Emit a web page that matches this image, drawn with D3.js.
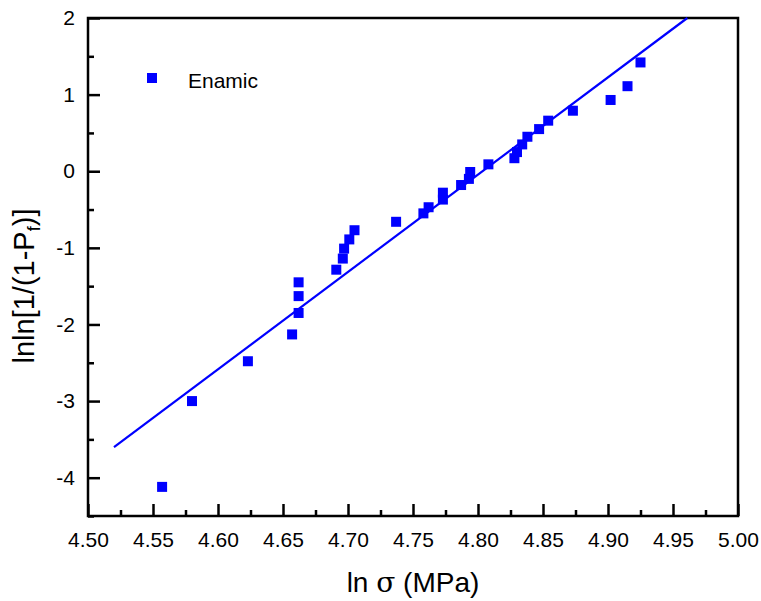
<!DOCTYPE html>
<html>
<head>
<meta charset="utf-8">
<script src="https://cdn.jsdelivr.net/npm/d3@7/dist/d3.min.js"></script>
<style>
  body{ margin:0; background:#fff; }
  text{ font-family:'Liberation Sans', Arial, sans-serif; fill:#000; }
</style>
</head>
<body>
<svg id="chart" width="761" height="601"></svg>
<script>
// ln(strength) and lnln[1/(1-Pf)]
var lnSigma = [4.557, 4.580, 4.623, 4.657, 4.662, 4.662, 4.662, 4.691, 4.696, 4.697,
  4.701, 4.705, 4.737, 4.758, 4.762, 4.773, 4.773, 4.787, 4.793, 4.794,
  4.808, 4.828, 4.830, 4.834, 4.838, 4.847, 4.854, 4.873, 4.902, 4.915, 4.925];
var lnlnPf = [-4.12, -3.00, -2.48, -2.13, -1.85, -1.63, -1.45, -1.285, -1.14, -1.01,
  -0.89, -0.77, -0.66, -0.55, -0.47, -0.37, -0.28, -0.18, -0.10, -0.01,
  0.09, 0.17, 0.25, 0.35, 0.45, 0.55, 0.66, 0.79, 0.93, 1.11, 1.42];

// linear fit end points
var fitX = [4.52, 4.961];
var fitY = [-3.6, 2.0];

var xTicks = ['4.50','4.55','4.60','4.65','4.70','4.75','4.80','4.85','4.90','4.95','5.00'];
var yTicks = ['-4', '-3', '-2', '-1', '0', '1', '2'];
var seriesName = 'Enamic';

var margin = {left:88, right:23, top:18, bottom:85};
var W = 761, H = 601;
var blue = '#0000FF';

var svg = d3.select('#chart');

var scaleX = d3.scaleLinear()
  .domain([4.5, 5.0])
  .range([margin.left, W - margin.right]);
var scaleY = d3.scaleLinear()
  .domain([-4.5, 2])
  .range([H - margin.bottom, margin.top]);

// frame
svg.append('rect')
  .attr('x', scaleX(4.5))
  .attr('y', scaleY(2))
  .attr('width', scaleX(5.0) - scaleX(4.5))
  .attr('height', scaleY(-4.5) - scaleY(2))
  .style('fill','none')
  .style('stroke','#000')
  .style('stroke-width',2.5);

// bottom axis, ticks inside
var xAxis = d3.axisBottom(scaleX)
  .tickValues(xTicks.map(Number))
  .tickFormat(function(d, i){ return xTicks[i]; })
  .tickSizeInner(-12)
  .tickSizeOuter(0)
  .tickPadding(16);
var gx = svg.append('g')
  .attr('transform','translate(0,' + scaleY(-4.5) + ')')
  .call(xAxis);
gx.select('.domain').remove();
gx.selectAll('.tick line').style('stroke','#000').style('stroke-width',2.5);
gx.selectAll('.tick text').style('font-size','21px');

var xMinor = d3.axisBottom(scaleX)
  .tickValues(d3.range(0, 10).map(function(i){ return 4.525 + i*0.05; }))
  .tickFormat('')
  .tickSizeInner(-6)
  .tickSizeOuter(0);
var gxm = svg.append('g')
  .attr('transform','translate(0,' + scaleY(-4.5) + ')')
  .call(xMinor);
gxm.select('.domain').remove();
gxm.selectAll('.tick line').style('stroke','#000').style('stroke-width',2.5);

// left axis
var yAxis = d3.axisLeft(scaleY)
  .tickValues(yTicks.map(Number))
  .tickFormat(function(d, i){ return yTicks[i]; })
  .tickSizeInner(-12)
  .tickSizeOuter(0)
  .tickPadding(13);
var gy = svg.append('g')
  .attr('transform','translate(' + scaleX(4.5) + ',0)')
  .call(yAxis);
gy.select('.domain').remove();
gy.selectAll('.tick line').style('stroke','#000').style('stroke-width',2.5);
gy.selectAll('.tick text').style('font-size','21px');

var yMinor = d3.axisLeft(scaleY)
  .tickValues([-4.5, -3.5, -2.5, -1.5, -0.5, 0.5, 1.5])
  .tickFormat('')
  .tickSizeInner(-6)
  .tickSizeOuter(0);
var gym = svg.append('g')
  .attr('transform','translate(' + scaleX(4.5) + ',0)')
  .call(yMinor);
gym.select('.domain').remove();
gym.selectAll('.tick line').style('stroke','#000').style('stroke-width',2.5);

// fit line
var line = d3.line()
  .x(function(d){ return scaleX(d[0]); })
  .y(function(d){ return scaleY(d[1]); });
svg.append('path')
  .datum(d3.zip(fitX, fitY))
  .attr('d', line)
  .style('fill','none')
  .style('stroke', blue)
  .style('stroke-width',2.2);

// points
var sq = 10;
svg.selectAll('.pt')
  .data(d3.zip(lnSigma, lnlnPf))
  .enter()
  .append('rect')
  .attr('class','pt')
  .attr('x', function(d){ return scaleX(d[0]) - sq/2; })
  .attr('y', function(d){ return scaleY(d[1]) - sq/2; })
  .attr('width', sq)
  .attr('height', sq)
  .style('fill', blue);

// legend
svg.append('rect')
  .attr('x', 147).attr('y', 73)
  .attr('width', sq).attr('height', sq)
  .style('fill', blue);
svg.append('text')
  .attr('x', 188).attr('y', 88)
  .style('font-size','21px')
  .text(seriesName);

// axis titles
var xt = svg.append('text')
  .attr('x', (scaleX(4.5) + scaleX(5.0))/2)
  .attr('y', 592)
  .attr('text-anchor','middle')
  .style('font-size','28px');
xt.append('tspan').text('ln ');
xt.append('tspan').style('font-family',"'DejaVu Serif', serif").text('σ');
xt.append('tspan').text(' (MPa)');

var yt = svg.append('text')
  .attr('transform','translate(34,286) rotate(-90)')
  .attr('text-anchor','middle')
  .style('font-size','29px');
yt.append('tspan').text('lnln[1/(1-P');
yt.append('tspan').attr('dy', 6).style('font-size','18px').text('f');
yt.append('tspan').attr('dy', -6).text(')]');
</script>
</body>
</html>
